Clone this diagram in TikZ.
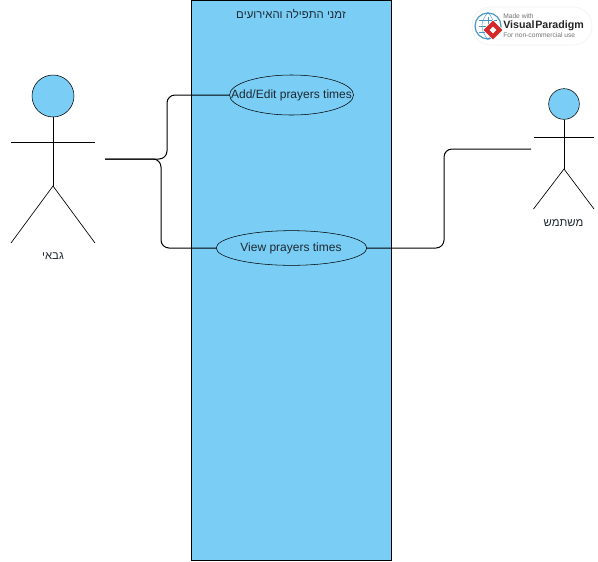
\documentclass[tikz,border=0pt]{standalone}
\usepackage{fontspec}
\usetikzlibrary{shapes.geometric}
\setmainfont{Liberation Sans}
\TeXXeTstate=1
\definecolor{skyfill}{RGB}{122,206,246}
\definecolor{textgray}{RGB}{30,40,50}
\definecolor{vpred}{RGB}{214,40,40}
\definecolor{vpblue}{RGB}{70,150,200}
\tikzset{
  usecase/.style={draw, ellipse, inner sep=0pt},
  casename/.style={text=textgray, font=\fontsize{9}{11}\selectfont, inner sep=0pt},
  head/.style={draw, circle, fill=skyfill, inner sep=0pt},
  limb/.style={line width=0.5pt},
  link/.style={line width=0.75pt, rounded corners=6},
  actorname/.style={text=textgray, font=\fontsize{8.5}{11}\selectfont},
  vptext/.style={anchor=west, inner sep=0pt}
}
\begin{document}
\begin{tikzpicture}[x=0.75pt, y=-0.75pt]
  \useasboundingbox (0,0) rectangle (598,561);
  %System box
  \node[draw, fill=skyfill, line width=0.75pt, minimum width=150pt, minimum height=420pt, inner sep=0pt] (system) at (291.5,280.5) {};
  \node[actorname] (systemname) at (291,14) {\beginR זמני התפילה והאירועים\endR};
  %Use cases
  \node[usecase, minimum width=93pt, minimum height=30pt] (addedit) at (291.5,95) {};
  \node[casename] (addeditname) at (291.5,95.8) {Add/Edit prayers times};
  \node[usecase, minimum width=113pt, minimum height=26pt] (view) at (291.5,248) {};
  \node[casename] (viewname) at (291,248.8) {View prayers times};
  %Left actor
  \node[head, minimum size=31.5pt] (gabaihead) at (53,96) {};
  \coordinate (gabaihip) at (53,186);
  \draw[limb] (gabaihead) -- (gabaihip);
  \draw[limb] (11,142) -- (95,142);
  \draw[limb] (11,243) -- (gabaihip) -- (95,243);
  \node[actorname] (gabainame) at (53,256) {\beginR גבאי\endR};
  %Right actor
  \node[head, minimum size=23pt] (userhead) at (564,104) {};
  \coordinate (userhip) at (564,169);
  \draw[limb] (userhead) -- (userhip);
  \draw[limb] (533.5,137) -- (594,137);
  \draw[limb] (533.5,209) -- (userhip) -- (594,209);
  \node[actorname] (username) at (563.5,223) {\beginR משתמש\endR};
  %Connectors
  \coordinate (gabaiport) at (105,159);
  \coordinate (userport) at (531,149);
  \draw[link] (gabaiport) -- (167,159) -- (167,95) -- (addedit.west);
  \draw[link] (gabaiport) -- (161,159) -- (161,248) -- (view.west);
  \draw[link] (view.east) -- (444,248) -- (444,149) -- (userport);
  %Watermark
  \node[draw=black!6, fill=white, rounded corners=14pt, minimum width=90pt, minimum height=28.5pt, inner sep=0pt] (badge) at (532,26) {};
  \node[draw=vpblue, fill=white, circle, line width=0.9pt, minimum size=19.5pt, inner sep=0pt] (globe) at (488,26) {};
  \foreach \a in {-6, 0, 6}
    \draw[vpblue, line width=0.3pt] (479,26+\a) -- (497,26+\a);
  \draw[vpblue, line width=0.3pt] (488,17) -- (488,35);
  \draw[vpblue, line width=0.3pt] (globe.north) .. controls (480,22) and (480,30) .. (globe.south);
  \draw[vpblue, line width=0.3pt] (globe.north) .. controls (496,22) and (496,30) .. (globe.south);
  \node[draw=white, fill=vpred, rotate=45, minimum size=10.5pt, inner sep=0pt, line width=0.4pt] (vpmark) at (493,30) {};
  \node[fill=white, rotate=45, minimum size=3.5pt, inner sep=0pt] (vphole) at (493,30) {};
  \node[vptext, text=black!55, font=\fontsize{5}{6}\selectfont] (madewith) at (503,16) {Made with};
  \node[vptext, text=black!85, font=\fontsize{8}{11}\selectfont\bfseries] (vpname) at (503,26) {Visual\kern0.6ptParadigm};
  \node[vptext, text=black!55, font=\fontsize{5}{6}\selectfont] (vpnote) at (503,35.5) {For non-commercial use};
\end{tikzpicture}
\end{document}
